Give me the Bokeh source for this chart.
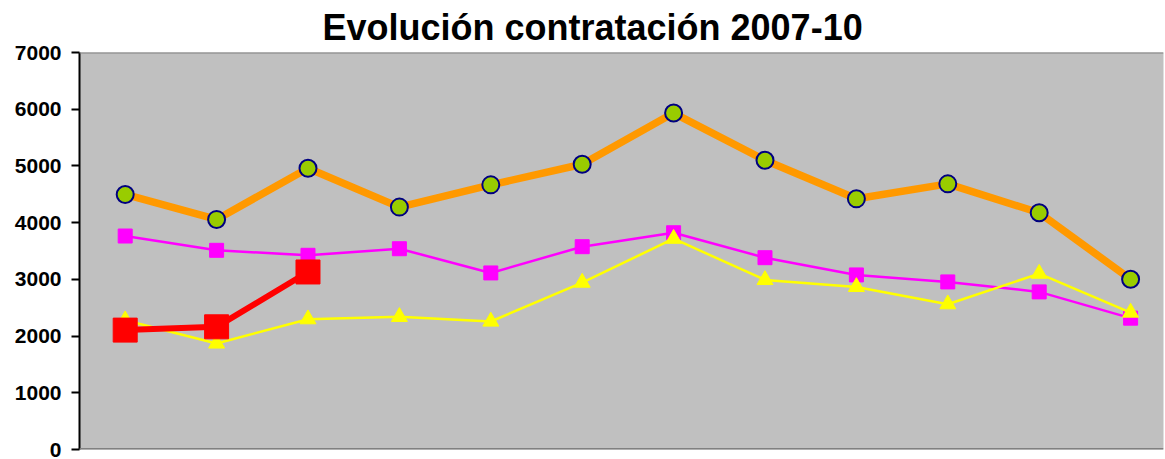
from bokeh.plotting import figure
from bokeh.models import Range1d, Span, SingleIntervalTicker
from bokeh.embed import file_html
from bokeh.resources import INLINE

months = ["Ene", "Feb", "Mar", "Abr", "May", "Jun", "Jul", "Ago", "Sep", "Oct", "Nov", "Dic"]
s2007 = [4497, 4057, 4960, 4274, 4666, 5030, 5932, 5100, 4420, 4684, 4174, 3002]
s2008 = [3764, 3512, 3424, 3540, 3113, 3576, 3822, 3382, 3078, 2955, 2779, 2316]
s2009 = [2280, 1870, 2298, 2339, 2257, 2943, 3717, 2990, 2867, 2562, 3101, 2415]
s2010 = [2105, 2163, 3130]
title_text = "Evolución contratación 2007-10"

x_all = list(range(len(months)))

p = figure(width=1165, height=459, output_backend="svg", toolbar_location=None,
           x_range=Range1d(-0.5, 11.36), y_range=Range1d(0, 7000),
           min_border_left=79, min_border_right=2, min_border_top=51, min_border_bottom=10,
           title=title_text)
p.title.text_font = "Liberation Sans"
p.title.text_font_style = "bold"
p.title.text_font_size = "36px"
p.title.text_color = "black"
p.title.align = "left"
p.title.offset = 243
p.title.standoff = 9
p.background_fill_color = "#C0C0C0"
p.border_fill_color = "white"
p.outline_line_color = None
p.xgrid.visible = False
p.ygrid.visible = False
p.xaxis.visible = False

ya = p.yaxis[0]
ya.ticker = SingleIntervalTicker(interval=1000)
ya.axis_line_color = "black"
ya.axis_line_width = 2
ya.major_tick_line_color = "black"
ya.major_tick_line_width = 2
ya.major_tick_out = 8
ya.major_tick_in = 0
ya.minor_tick_line_color = None
ya.major_label_text_font = "Liberation Sans"
ya.major_label_text_font_style = "bold"
ya.major_label_text_font_size = "21px"
ya.major_label_text_color = "black"
ya.major_label_standoff = 10

p.add_layout(Span(location=7000, dimension="width", line_color="#808080", line_width=2))
p.add_layout(Span(location=0, dimension="width", line_color="#808080", line_width=3))

# 2007
p.line(x_all, s2007, line_color="#FF9900", line_width=7.5)
p.scatter(x_all, s2007, marker="circle", size=17, fill_color="#99CC00",
          line_color="#000080", line_width=2)
# 2008
p.line(x_all, s2008, line_color="#FF00FF", line_width=2.5)
p.scatter(x_all, s2008, marker="square", size=14, fill_color="#FF00FF", line_color="#FF00FF", line_width=1)
# 2009
p.line(x_all, s2009, line_color="#FFFF00", line_width=2.5)
p.scatter(x_all, s2009, marker="triangle", size=16, fill_color="#FFFF00", line_color="#FFFF00", line_width=1)
# 2010
x10 = x_all[:len(s2010)]
p.line(x10, s2010, line_color="#FF0000", line_width=6)
p.scatter(x10, s2010, marker="square", size=24, fill_color="#FF0000", line_color="#FF0000", line_width=1)

open("out.html", "w").write(file_html(p, INLINE))
